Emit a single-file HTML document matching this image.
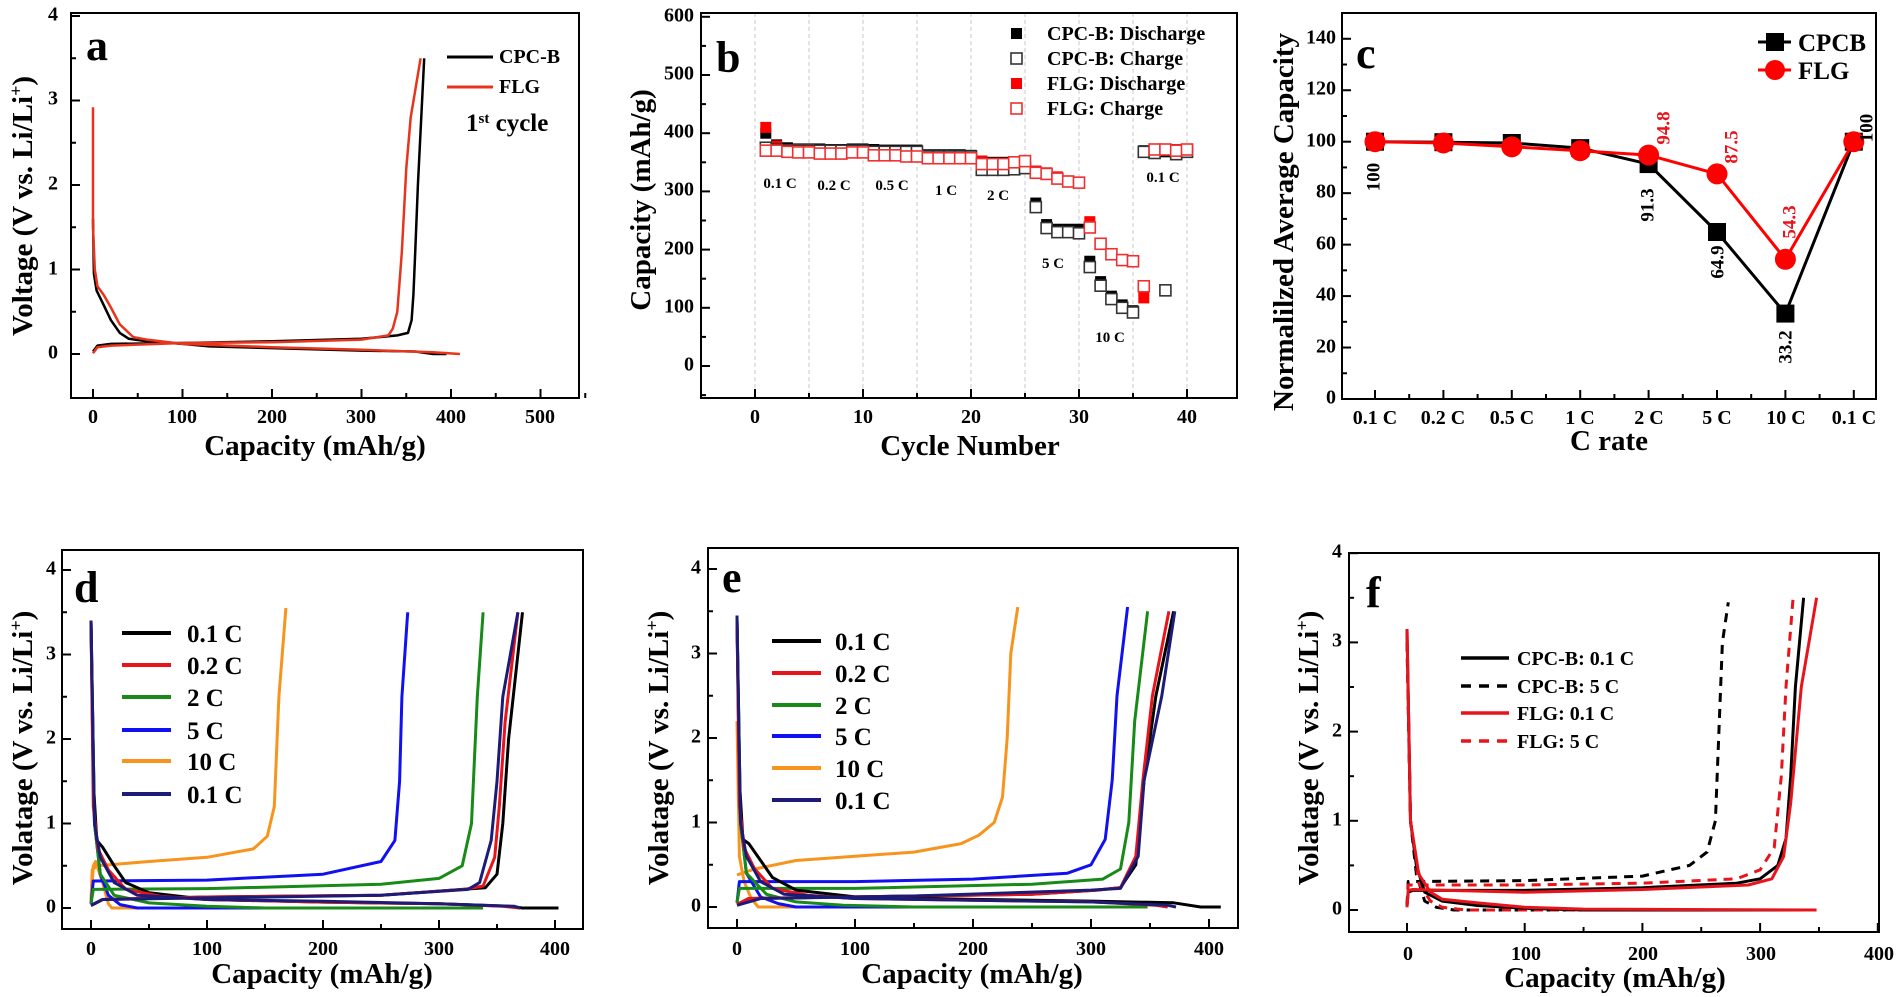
<!DOCTYPE html>
<html><head><meta charset="utf-8">
<style>
html,body{margin:0;padding:0;background:#fff;}
svg{display:block;}
text{font-family:"Liberation Serif",serif;font-weight:bold;fill:#000;}
.tk{font-size:20px;}
.ttl{font-size:29px;}
.lt{font-size:44px;}
.lg{font-size:20px;}
.lgb{font-size:25px;}
.rl{font-size:15px;font-weight:normal;}
</style></head><body>
<svg id="s" width="1900" height="997" viewBox="0 0 1900 997" xmlns="http://www.w3.org/2000/svg">
<g id="plots"></g>
<!-- Panel a text -->
<g class="tk" text-anchor="end" dominant-baseline="middle">
<text x="58" y="16">4</text><text x="58" y="100">3</text><text x="58" y="185">2</text><text x="58" y="270">1</text><text x="58" y="354">0</text>
</g>
<g class="tk" text-anchor="middle">
<text x="93" y="423">0</text><text x="182" y="423">100</text><text x="272" y="423">200</text><text x="361" y="423">300</text><text x="451" y="423">400</text><text x="540" y="423">500</text>
</g>
<text class="ttl" x="315" y="455" text-anchor="middle">Capacity (mAh/g)</text>
<text class="ttl" transform="translate(32,206) rotate(-90)" text-anchor="middle">Voltage (V vs. Li/Li<tspan baseline-shift="super" font-size="18">+</tspan>)</text>
<text class="lt" x="86" y="60">a</text>
<text class="lg" x="499" y="63">CPC-B</text>
<text class="lg" x="499" y="93">FLG</text>
<text class="lgb" x="466" y="131">1<tspan baseline-shift="super" font-size="15">st</tspan> cycle</text>

<!-- Panel b text -->
<g class="tk" text-anchor="end" dominant-baseline="middle">
<text x="694" y="17">600</text><text x="694" y="75">500</text><text x="694" y="133">400</text><text x="694" y="191">300</text><text x="694" y="250">200</text><text x="694" y="308">100</text><text x="694" y="366">0</text>
</g>
<g class="tk" text-anchor="middle">
<text x="755" y="423">0</text><text x="863" y="423">10</text><text x="971" y="423">20</text><text x="1079" y="423">30</text><text x="1187" y="423">40</text>
</g>
<text class="ttl" x="970" y="455" text-anchor="middle">Cycle Number</text>
<text class="ttl" transform="translate(650,200) rotate(-90)" text-anchor="middle">Capacity (mAh/g)</text>
<text class="lt" x="716" y="72">b</text>
<g class="lg"><text x="1047" y="40">CPC-B: Discharge</text><text x="1047" y="65">CPC-B: Charge</text><text x="1047" y="90">FLG: Discharge</text><text x="1047" y="115">FLG: Charge</text></g>
<g class="rl" text-anchor="middle">
<text x="780" y="188">0.1 C</text><text x="834" y="190">0.2 C</text><text x="892" y="190">0.5 C</text><text x="946" y="195">1 C</text><text x="998" y="200">2 C</text><text x="1053" y="268">5 C</text><text x="1110" y="342">10 C</text><text x="1163" y="182">0.1 C</text>
</g>

<!-- Panel c text -->
<g class="tk" text-anchor="end" dominant-baseline="middle">
<text x="1336" y="399">0</text><text x="1336" y="348">20</text><text x="1336" y="296">40</text><text x="1336" y="245">60</text><text x="1336" y="193">80</text><text x="1336" y="142">100</text><text x="1336" y="90">120</text><text x="1336" y="39">140</text>
</g>
<g class="tk" text-anchor="middle">
<text x="1375" y="424">0.1 C</text><text x="1443" y="424">0.2 C</text><text x="1512" y="424">0.5 C</text><text x="1580" y="424">1 C</text><text x="1649" y="424">2 C</text><text x="1717" y="424">5 C</text><text x="1786" y="424">10 C</text><text x="1854" y="424">0.1 C</text>
</g>
<text class="ttl" x="1609" y="450" text-anchor="middle">C rate</text>
<text class="ttl" transform="translate(1293,222) rotate(-90)" text-anchor="middle">Normalilzed Average Capacity</text>
<text class="lt" x="1356" y="68">c</text>
<g class="lgb"><text x="1798" y="51">CPCB</text><text x="1798" y="79">FLG</text></g>
<g font-size="19" dominant-baseline="middle" text-anchor="middle">
<text transform="translate(1375,177) rotate(-90)">100</text>
<text transform="translate(1649,205) rotate(-90)">91.3</text>
<text transform="translate(1719,262) rotate(-90)">64.9</text>
<text transform="translate(1787,347) rotate(-90)">33.2</text>
<text transform="translate(1868,128) rotate(-90)">100</text>
<text transform="translate(1665,128) rotate(-90)" style="fill:#e8141c">94.8</text>
<text transform="translate(1733,147) rotate(-90)" style="fill:#e8141c">87.5</text>
<text transform="translate(1791,222) rotate(-90)" style="fill:#e8141c">54.3</text>
</g>

<!-- Panel d text -->
<g class="tk" text-anchor="end" dominant-baseline="middle">
<text x="56" y="908">0</text><text x="56" y="824">1</text><text x="56" y="739">2</text><text x="56" y="655">3</text><text x="56" y="570">4</text>
</g>
<g class="tk" text-anchor="middle">
<text x="91" y="955">0</text><text x="207" y="955">100</text><text x="323" y="955">200</text><text x="439" y="955">300</text><text x="555" y="955">400</text>
</g>
<text class="ttl" x="322" y="983" text-anchor="middle">Capacity (mAh/g)</text>
<text class="ttl" transform="translate(32,748) rotate(-90)" text-anchor="middle">Volatage (V vs. Li/Li<tspan baseline-shift="super" font-size="18">+</tspan>)</text>
<text class="lt" x="74" y="602">d</text>
<g class="lgb"><text x="187" y="642">0.1 C</text><text x="187" y="674">0.2 C</text><text x="187" y="706">2 C</text><text x="187" y="739">5 C</text><text x="187" y="770">10 C</text><text x="187" y="803">0.1 C</text></g>

<!-- Panel e text -->
<g class="tk" text-anchor="end" dominant-baseline="middle">
<text x="701" y="907">0</text><text x="701" y="823">1</text><text x="701" y="738">2</text><text x="701" y="654">3</text><text x="701" y="569">4</text>
</g>
<g class="tk" text-anchor="middle">
<text x="737" y="955">0</text><text x="855" y="955">100</text><text x="973" y="955">200</text><text x="1091" y="955">300</text><text x="1209" y="955">400</text>
</g>
<text class="ttl" x="972" y="983" text-anchor="middle">Capacity (mAh/g)</text>
<text class="ttl" transform="translate(668,748) rotate(-90)" text-anchor="middle">Volatage (V vs. Li/Li<tspan baseline-shift="super" font-size="18">+</tspan>)</text>
<text class="lt" x="722" y="592">e</text>
<g class="lgb"><text x="835" y="650">0.1 C</text><text x="835" y="682">0.2 C</text><text x="835" y="714">2 C</text><text x="835" y="745">5 C</text><text x="835" y="777">10 C</text><text x="835" y="809">0.1 C</text></g>

<!-- Panel f text -->
<g class="tk" text-anchor="end" dominant-baseline="middle">
<text x="1342" y="910">0</text><text x="1342" y="821">1</text><text x="1342" y="732">2</text><text x="1342" y="642">3</text><text x="1342" y="553">4</text>
</g>
<g class="tk" text-anchor="middle">
<text x="1408" y="960">0</text><text x="1526" y="960">100</text><text x="1643" y="960">200</text><text x="1761" y="960">300</text><text x="1879" y="960">400</text>
</g>
<text class="ttl" x="1615" y="987" text-anchor="middle">Capacity (mAh/g)</text>
<text class="ttl" transform="translate(1318,748) rotate(-90)" text-anchor="middle">Volatage (V vs. Li/Li<tspan baseline-shift="super" font-size="18">+</tspan>)</text>
<text class="lt" x="1366" y="607">f</text>
<g class="lg"><text x="1517" y="665">CPC-B: 0.1 C</text><text x="1517" y="693">CPC-B: 5 C</text><text x="1517" y="720">FLG: 0.1 C</text><text x="1517" y="748">FLG: 5 C</text></g>
</svg>
<script>
(function(){
var NS="http://www.w3.org/2000/svg",G=document.getElementById("plots");
function el(t,a){var e=document.createElementNS(NS,t);for(var k in a)e.setAttribute(k,a[k]);G.appendChild(e);return e;}
function line(x1,y1,x2,y2,c,w,d){var a={x1:x1,y1:y1,x2:x2,y2:y2,stroke:c||"#000","stroke-width":w||2};if(d)a["stroke-dasharray"]=d;el("line",a);}
function box(x1,y1,x2,y2){el("rect",{x:x1,y:y1,width:x2-x1,height:y2-y1,fill:"none",stroke:"#000","stroke-width":2});}
function curve(P,pts,c,w,d){var s="";for(var i=0;i<pts.length;i+=2){s+=(i?"L":"M")+(P.x0+pts[i]*P.sx).toFixed(1)+","+(P.y0-pts[i+1]*P.sy).toFixed(1);}
 var a={d:s,fill:"none",stroke:c,"stroke-width":w||3,"stroke-linejoin":"round","stroke-linecap":"butt"};if(d)a["stroke-dasharray"]=d;el("path",a);}
function xt(P,vals,len,yb){vals.forEach(function(v){var x=P.x0+v*P.sx;line(x,yb,x,yb-len);});}
function yt(P,vals,len,xl){vals.forEach(function(v){var y=P.y0-v*P.sy;line(xl,y,xl+len,y);});}
function maj(a,b,s){var r=[];for(var v=a;v<=b+1e-9;v+=s)r.push(+v.toFixed(3));return r;}

// ---- panel a
var A={x0:93,y0:354,sx:0.895,sy:84.5};
box(71,13,579,398);
xt(A,maj(0,500,100),9,398);xt(A,maj(50,550,100),5,398);
yt(A,maj(0,4,1),9,71);yt(A,maj(0.5,3.5,1),5,71);
curve(A,[0,1.6,1,0.95,4,0.75,10,0.62,20,0.4,30,0.25,40,0.18,60,0.15,100,0.12,130,0.09,200,0.07,300,0.04,360,0.03,380,0.0,395,0.0],"#000",2.5);
curve(A,[0,0.03,5,0.1,20,0.12,100,0.13,200,0.15,300,0.18,340,0.22,352,0.25,356,0.4,358,0.7,360,1.2,363,2,370,3.5],"#000",2.5);
curve(A,[0,2.92,0,1.5,2,1.0,5,0.8,12,0.7,20,0.55,30,0.35,45,0.2,60,0.17,100,0.12,200,0.08,300,0.05,380,0.02,410,0.0],"#e8341c",2.5);
curve(A,[0,0.01,5,0.08,20,0.1,100,0.13,200,0.14,300,0.17,330,0.22,335,0.3,340,0.5,345,1.2,350,2.2,355,2.8,366,3.5],"#e8341c",2.5);
line(447,57,493,57,"#000",3);line(447,87,493,87,"#e8341c",3);

// ---- panel b
var B={x0:755,y0:366,sx:10.8,sy:0.582};
for(var c=0;c<=40;c+=5){var gx=B.x0+c*B.sx;line(gx,13,gx,398,"#c8c8c8",1,"4,3");}
box(701,13,1237,398);
xt(B,maj(0,40,10),9,398);xt(B,maj(5,35,10),5,398);
yt(B,maj(0,600,100),9,701);yt(B,maj(-50,550,100),5,701);
var cd=[400,380,375,373,373,373,372,372,373,373,372,371,371,371,371,363,363,363,363,362,352,350,350,350,350,280,243,235,235,235,180,145,120,105,95,370,368,368,368,368];
var cc=[375,372,370,370,370,370,370,370,370,370,368,368,368,368,368,360,360,360,360,360,337,337,337,338,340,273,237,230,230,228,170,138,115,100,92,368,366,130,364,368];
var fd=[410,378,372,372,372,370,370,370,370,370,368,368,368,368,368,360,360,360,360,360,352,348,348,350,352,335,332,325,318,315,248,210,192,182,180,117,372,372,372,372];
var fc=[370,370,368,367,367,365,365,365,367,367,362,362,362,360,360,357,357,357,357,357,347,347,347,350,352,332,330,322,317,315,238,210,192,182,180,137,372,372,370,372];
function sq(arr,fill,stroke,open){arr.forEach(function(v,i){var x=B.x0+(i+1)*B.sx,y=B.y0-v*B.sy;
 el("rect",{x:x-5.5,y:y-5.5,width:11,height:11,fill:open?"#fff":fill,stroke:stroke,"stroke-width":open?1.6:0});});}
sq(cd,"#000","#000",false);sq(fd,"#f00","#f00",false);sq(cc,"none","#333",true);sq(fc,"none","#f03030",true);
el("rect",{x:1011,y:28,width:11,height:11,fill:"#000"});
el("rect",{x:1011,y:53,width:11,height:11,fill:"#fff",stroke:"#333","stroke-width":1.6});
el("rect",{x:1011,y:78,width:11,height:11,fill:"#f00"});
el("rect",{x:1011,y:103,width:11,height:11,fill:"#fff",stroke:"#f03030","stroke-width":1.6});

// ---- panel c
box(1342,13,1876,399);
var C={x0:1375,y0:399,sx:68.4,sy:2.573};
xt(C,maj(0,7,1),9,399);xt(C,maj(0.5,6.5,1),5,399);
yt(C,maj(0,140,20),9,1342);yt(C,maj(10,130,20),5,1342);
var cb=[100,99.8,99.5,97.5,91.3,64.9,33.2,100],cf=[100,99.5,98,96.5,94.8,87.5,54.3,100];
curve(C,[0,cb[0],1,cb[1],2,cb[2],3,cb[3],4,cb[4],5,cb[5],6,cb[6],7,cb[7]],"#000",3);
cb.forEach(function(v,i){el("rect",{x:C.x0+i*C.sx-9,y:C.y0-v*C.sy-9,width:18,height:18,fill:"#000"});});
curve(C,[0,cf[0],1,cf[1],2,cf[2],3,cf[3],4,cf[4],5,cf[5],6,cf[6],7,cf[7]],"#f00",3);
cf.forEach(function(v,i){el("circle",{cx:C.x0+i*C.sx,cy:C.y0-v*C.sy,r:10.5,fill:"#f00"});});
line(1758,42,1791,42,"#000",3);el("rect",{x:1766,y:33,width:18,height:18,fill:"#000"});
line(1758,70,1791,70,"#f00",3);el("circle",{cx:1775,cy:70,r:10,fill:"#f00"});

// ---- panels d,e
var cols={k:"#000",r:"#e8141c",g:"#178a17",b:"#1010f0",o:"#f7941d",n:"#1c1c78"};
function vpanel(P,L,R,T,Bt){
 box(L,T,R,Bt);xt(P,maj(0,400,100),9,Bt);xt(P,[50,150,250,350],5,Bt);
 yt(P,maj(0,4,1),9,L);yt(P,[0.5,1.5,2.5,3.5],5,L);
}
var D={x0:91,y0:908,sx:1.16,sy:84.5};
vpanel(D,62,583,550,929);
 curve(D,[0,0.1,1,0.45,5,0.5,50,0.55,100,0.6,140,0.7,152,0.85,158,1.2,162,2.5,168,3.55],cols.o);
 curve(D,[0,0.05,2,0.5,4,0.55,10,0.3,15,0.05,18,0,178,0],cols.o);
 curve(D,[0,0.05,2,0.32,100,0.33,200,0.4,250,0.55,262,0.8,266,1.5,268,2.5,273,3.5],cols.b);
 curve(D,[0,3.4,3,1,8,0.4,15,0.15,25,0.04,40,0,278,0],cols.b);
 curve(D,[0,0.05,2,0.22,100,0.23,250,0.28,300,0.35,320,0.5,328,1,333,2.5,338,3.5],cols.g);
 curve(D,[0,3.4,3,1,8,0.4,20,0.15,50,0.06,100,0.02,150,0,338,0],cols.g);
 curve(D,[0,3.4,2,1.5,5,0.8,10,0.72,20,0.5,30,0.3,50,0.18,100,0.1,200,0.07,300,0.05,360,0.02,372,0,403,0],cols.k);
 curve(D,[0,0.03,10,0.1,100,0.13,250,0.15,320,0.22,340,0.24,350,0.4,355,1.0,360,2.0,372,3.5],cols.k);
 curve(D,[0,3.4,2,1.2,6,0.7,15,0.45,30,0.22,60,0.14,100,0.1,200,0.07,300,0.05,355,0.02,370,0],cols.r);
 curve(D,[0,0.03,10,0.1,100,0.13,250,0.15,322,0.22,338,0.26,348,0.6,352,1.2,357,2.2,368,3.5],cols.r);
 curve(D,[0,3.4,3,1,8,0.6,20,0.3,40,0.15,100,0.1,200,0.08,300,0.05,365,0.02,370,0],cols.n);
 curve(D,[0,0.03,10,0.1,100,0.12,250,0.15,325,0.22,335,0.3,345,0.8,350,1.5,355,2.5,368,3.5],cols.n);
var ly=[633,665,697,730,761,794],lc=["k","r","g","b","o","n"];
ly.forEach(function(y,i){line(122,y,171,y,cols[lc[i]],4);});

var E={x0:737,y0:907,sx:1.18,sy:84.5};
vpanel(E,708,1238,548,928);
curve(E,[0,0.38,15,0.45,50,0.55,100,0.6,150,0.65,190,0.75,205,0.85,218,1.0,225,1.3,229,2,232,3,238,3.55],cols.o);
curve(E,[0,2.2,2,0.6,6,0.3,12,0.1,18,0,245,0],cols.o);
curve(E,[0,0.05,2,0.3,100,0.3,200,0.33,280,0.4,300,0.5,312,0.8,318,1.5,322,2.5,331,3.55],cols.b);
curve(E,[0,3.4,3,1,8,0.4,20,0.12,35,0.04,50,0,330,0],cols.b);
curve(E,[0,0.05,2,0.22,100,0.22,250,0.27,310,0.33,325,0.45,332,1,337,2.2,348,3.5],cols.g);
curve(E,[0,3.4,3,1,8,0.4,25,0.15,50,0.06,90,0.02,150,0,348,0],cols.g);
curve(E,[0,3.4,2,1.5,5,0.8,10,0.75,20,0.55,30,0.35,50,0.2,100,0.12,200,0.09,300,0.07,370,0.05,393,0,410,0],cols.k);
curve(E,[0,0.03,10,0.1,100,0.12,250,0.15,305,0.2,325,0.23,338,0.5,345,1.5,355,2.5,370,3.5],cols.k);
curve(E,[0,3.4,2,1.2,6,0.7,15,0.45,30,0.22,60,0.14,100,0.1,200,0.08,300,0.06,355,0.02,365,0],cols.r);
curve(E,[0,0.03,10,0.1,100,0.12,250,0.15,305,0.2,325,0.23,338,0.6,344,1.5,352,2.5,366,3.5],cols.r);
curve(E,[0,3.45,3,1,8,0.6,20,0.3,40,0.15,100,0.1,200,0.08,300,0.06,365,0.02,372,0],cols.n);
curve(E,[0,0.02,20,0.1,150,0.13,300,0.2,325,0.22,340,0.6,345,1.5,360,2.5,371,3.5],cols.n);
[641,673,705,736,768,800].forEach(function(y,i){line(772,y,821,y,cols[lc[i]],4);});

// ---- panel f
var F={x0:1407,y0:910,sx:1.177,sy:89.2};
box(1349,553,1879,932);
xt(F,maj(0,400,100),9,932);xt(F,[50,150,250,350],5,932);
yt(F,maj(0,4,1),9,1349);yt(F,[0.5,1.5,2.5,3.5],5,1349);
var dash="9,7";
curve(F,[0,0.05,1,0.32,100,0.33,200,0.38,240,0.5,255,0.65,262,1,265,2,268,3,273,3.45],"#000",3,dash);
curve(F,[0,3,3,1,8,0.4,15,0.1,25,0.03,40,0,275,0],"#000",3,dash);
curve(F,[0,0.05,1,0.28,100,0.28,200,0.3,280,0.35,300,0.45,312,0.7,318,1.5,322,2.5,328,3.5],"#e8141c",3,dash);
curve(F,[0,3,3,1,10,0.3,20,0.1,30,0.03,50,0,270,0],"#e8141c",3,dash);
curve(F,[0,0.05,1,0.2,5,0.22,100,0.22,200,0.25,280,0.3,300,0.35,315,0.5,322,0.8,326,1.5,330,2.5,337,3.5],"#000",3);
curve(F,[0,3.15,3,1,8,0.5,15,0.2,30,0.1,60,0.05,100,0.02,150,0,337,0],"#000",3);
curve(F,[0,0.03,1,0.22,5,0.23,100,0.2,200,0.23,290,0.28,310,0.35,320,0.6,326,1.2,335,2.5,348,3.5],"#e8141c",3);
curve(F,[0,3.15,3,1,10,0.4,20,0.2,30,0.12,60,0.08,100,0.03,150,0.01,348,0],"#e8141c",3);
line(1461,658,1509,658,"#000",3.5);line(1461,686,1509,686,"#000",3.5,"10,8");
line(1461,713,1509,713,"#e8141c",3.5);line(1461,741,1509,741,"#e8141c",3.5,"10,8");
})();
</script>
</body></html>
